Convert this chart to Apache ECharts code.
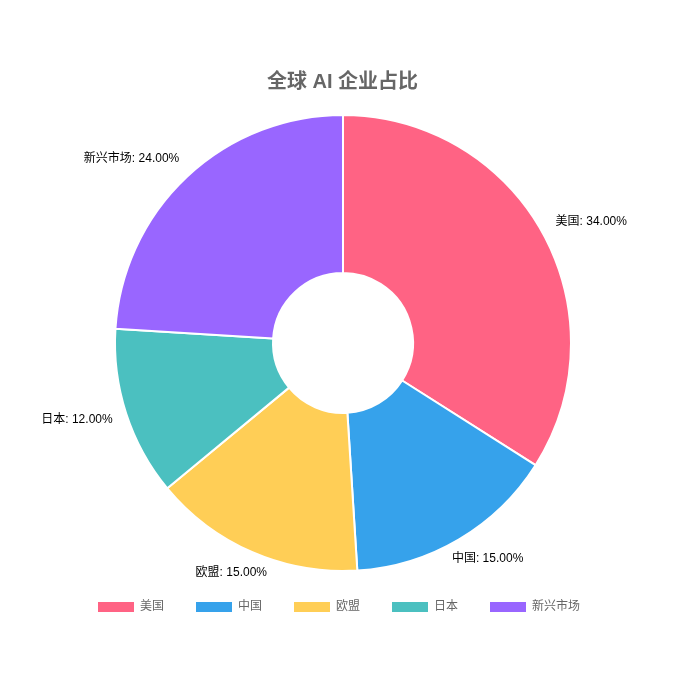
<!DOCTYPE html>
<html><head><meta charset="utf-8">
<script src="https://cdn.jsdelivr.net/npm/echarts@6/dist/echarts.min.js"></script>
<style>html,body{margin:0;padding:0;background:#fff}#c{width:685px;height:684px}</style>
</head><body><div id="c"></div>
<script>
const categories = ['美国', '中国', '欧盟', '日本', '新兴市场'];
const shares = [34, 15, 15, 12, 24];
const colors = ['#FF6384', '#36A2EB', '#FFCE56', '#4BC0C0', '#9966FF'];

const FONT = "'Liberation Sans', 'Noto Sans CJK SC', sans-serif";
const CX = 343, CY = 343, R_OUT = 228, R_IN = 70;
const LABEL_OFFSET = 10, LABEL_PAD = 4, LABEL_LINE_H = 14.4;

const total = shares.reduce((a, b) => a + b, 0);
function midDir(i) {
  let cum = 0;
  for (let k = 0; k < i; k++) cum += shares[k];
  const th = 2 * Math.PI * (cum + shares[i] / 2) / total;
  return [Math.sin(th), -Math.cos(th)];
}

const chart = echarts.init(document.getElementById('c'));
chart.setOption({
  animation: false,
  color: colors,
  title: {
    text: '全球 AI 企业占比',
    left: 'center',
    top: 67,
    textStyle: { fontSize: 20, fontWeight: 'bold', color: '#666', fontFamily: FONT }
  },
  legend: {
    bottom: 65,
    left: 91,
    itemWidth: 38,
    itemHeight: 12,
    itemGap: 30,
    icon: 'rect',
    textStyle: { fontSize: 12, color: '#666', fontFamily: FONT },
    data: categories
  },
  series: [{
    type: 'pie',
    center: [CX, CY],
    radius: [R_IN, R_OUT],
    startAngle: 90,
    clockwise: true,
    itemStyle: { borderColor: '#fff', borderWidth: 2 },
    label: {
      show: true,
      color: '#000',
      fontSize: 12,
      fontFamily: FONT,
      overflow: 'none',
      bleedMargin: 0,
      formatter: p => p.name + ': ' + p.percent.toFixed(2) + '%'
    },
    labelLine: { show: false, length: 0, length2: 0 },
    labelLayout: function (params) {
      const [vx, vy] = midDir(params.dataIndex);
      const ax = CX + R_OUT * vx, ay = CY + R_OUT * vy;
      const w = params.labelRect.width + 2 * LABEL_PAD;
      const h = LABEL_LINE_H + 2 * LABEL_PAD;
      const m = Math.max(Math.abs(vx), Math.abs(vy));
      return {
        x: ax + (w / 2) * vx / m + LABEL_OFFSET * vx,
        y: ay + (h / 2) * vy / m + LABEL_OFFSET * vy,
        align: 'center',
        verticalAlign: 'middle'
      };
    },
    emphasis: { scale: false },
    data: categories.map((c, i) => ({ name: c, value: shares[i] }))
  }]
});
</script></body></html>
